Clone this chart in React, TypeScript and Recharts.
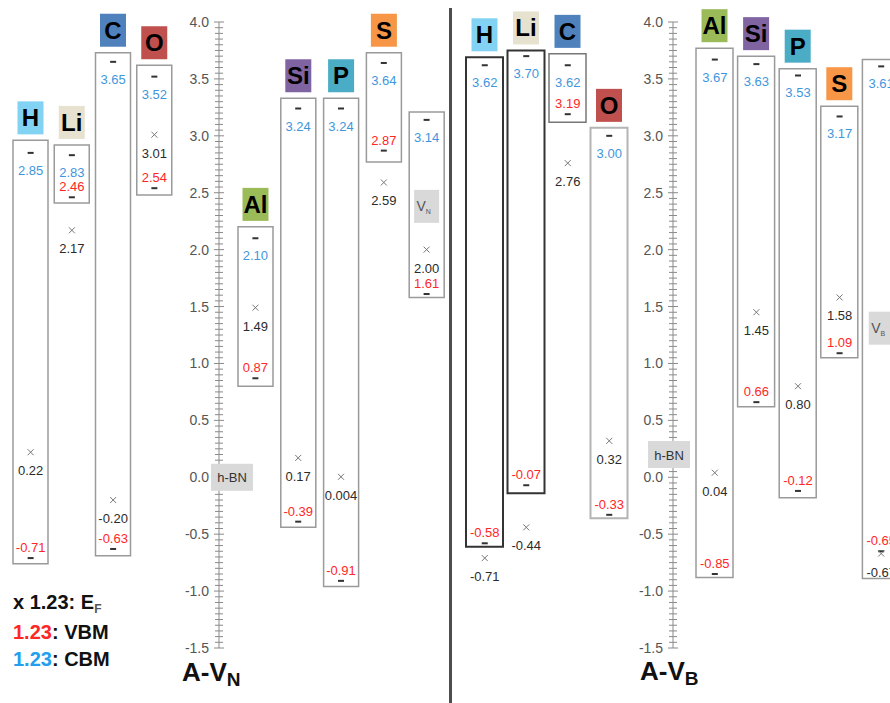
import React from "react"
import { ComposedChart, Bar, Line, XAxis, YAxis, Cell, LabelList, ReferenceDot } from "recharts"

const FONT = '"Liberation Sans", Arial, Helvetica, sans-serif'
const W = 890
const H = 703
const TOP = 22
const BOTTOM = 55

// A-V_N panel (left)
const VN_SITES = ["H", "Li", "C", "O", "Al", "Si", "P", "S", "VN"]
const VN_CBM = [2.85, 2.83, 3.65, 3.52, 2.10, 3.24, 3.24, 3.64, 3.14]
const VN_VBM = [-0.71, 2.46, -0.63, 2.54, 0.87, -0.39, -0.91, 2.87, 1.61]
const VN_EF = [0.22, 2.17, -0.20, 3.01, 1.49, 0.17, 0.004, 2.59, 2.00]
const VN_BOX_TOP = [2.96, 2.92, 3.73, 3.62, 2.20, 3.33, 3.33, 3.73, 3.21]
const VN_BOX_BOTTOM = [-0.76, 2.41, -0.69, 2.48, 0.80, -0.44, -0.96, 2.77, 1.58]

// A-V_B panel (right)
const VB_SITES = ["H", "Li", "C", "O", "Al", "Si", "P", "S", "VB"]
const VB_CBM = [3.62, 3.70, 3.62, 3.00, 3.67, 3.63, 3.53, 3.17, 3.61]
const VB_VBM = [-0.58, -0.07, 3.19, -0.33, -0.85, 0.66, -0.12, 1.09, -0.65]
const VB_EF = [-0.71, -0.44, 2.76, 0.32, 0.04, 1.45, 0.80, 1.58, -0.67]
const VB_BOX_TOP = [3.69, 3.75, 3.72, 3.07, 3.77, 3.70, 3.59, 3.26, 3.67]
const VB_BOX_BOTTOM = [-0.61, -0.14, 3.12, -0.36, -0.88, 0.62, -0.18, 1.05, -0.89]

// energy axis labels
const Y_LABELS = [-1.5, -1.0, -0.5, 0.0, 0.5, 1.0, 1.5, 2.0, 2.5, 3.0, 3.5, 4.0]

const TAG_COLORS: Record<string, string> = {
  H: "#82d3f3",
  Li: "#e6e2cf",
  C: "#4f81bd",
  O: "#c0504d",
  Al: "#9bbb59",
  Si: "#8064a2",
  P: "#4bacc6",
  S: "#f79646",
}

const BLUE = "#3f96dd"
const RED = "#ff2626"
const INK = "#2b2b2b"
const AXIS = "#8a8a8a"

const fmt = (v: number) => (v !== 0 && Math.abs(v) < 0.01 ? v.toFixed(3) : v.toFixed(2))
const isMajor = (v: number) => Math.abs(v * 2 - Math.round(v * 2)) < 1e-6

// every 0.05 between the labelled values
const minorTicks: number[] = []
for (let i = 0; i < Y_LABELS.length - 1; i++) {
  for (let k = 0; k < 10; k++) minorTicks.push(+(Y_LABELS[i] + (k * (Y_LABELS[i + 1] - Y_LABELS[i])) / 10).toFixed(2))
}
minorTicks.push(Y_LABELS[Y_LABELS.length - 1])

function buildRows(sites: string[], cbm: number[], vbm: number[], ef: number[], top: number[], bottom: number[]) {
  return sites.map((name, i) => ({ name, cbm: cbm[i], vbm: vbm[i], ef: ef[i], box: [bottom[i], top[i]] }))
}

const vnRows = buildRows(VN_SITES, VN_CBM, VN_VBM, VN_EF, VN_BOX_TOP, VN_BOX_BOTTOM)
const vbRows = buildRows(VB_SITES, VB_CBM, VB_VBM, VB_EF, VB_BOX_TOP, VB_BOX_BOTTOM)

function renderTag(p: any) {
  const name = String(p.value)
  const fill = TAG_COLORS[name]
  if (!fill) return null
  const vb = p.viewBox ?? p
  const x = vb.x ?? p.x
  const y = vb.y ?? p.y
  const width = vb.width ?? p.width
  const cx = x + width / 2
  const bottom = y - 6
  return (
    <g>
      <rect x={cx - 13} y={bottom - 33} width={26} height={33} fill={fill} />
      <text x={cx} y={bottom - 8} textAnchor="middle" fontSize={24} fontWeight="bold" fill="#000" fontFamily={FONT}>
        {name}
      </text>
    </g>
  )
}

function cbmDot(p: any) {
  if (p.cy == null) return <g key={p.index} />
  return (
    <g key={`c${p.index}`}>
      <rect x={p.cx - 3} y={p.cy - 1} width={6} height={2} fill="#333" />
      <text x={p.cx} y={p.cy + 22} textAnchor="middle" fontSize={13} fill={BLUE} fontFamily={FONT}>{fmt(p.value)}</text>
    </g>
  )
}

function vbmDot(p: any) {
  if (p.cy == null) return <g key={p.index} />
  return (
    <g key={`v${p.index}`}>
      <rect x={p.cx - 3} y={p.cy - 1} width={6} height={2} fill="#333" />
      <text x={p.cx} y={p.cy - 6} textAnchor="middle" fontSize={13} fill={RED} fontFamily={FONT}>{fmt(p.value)}</text>
    </g>
  )
}

function efDot(p: any) {
  if (p.cy == null) return <g key={p.index} />
  return (
    <g key={`e${p.index}`}>
      <path d={`M${p.cx - 3},${p.cy - 3}L${p.cx + 3},${p.cy + 3}M${p.cx + 3},${p.cy - 3}L${p.cx - 3},${p.cy + 3}`} stroke="#777" strokeWidth={1} />
      <text x={p.cx} y={p.cy + 23} textAnchor="middle" fontSize={13} fill={INK} fontFamily={FONT}>{fmt(p.value)}</text>
    </g>
  )
}

function vacancyShape(sub: string) {
  return (p: any) => (
    <g>
      <rect x={p.cx - 12.5} y={p.cy - 16.5} width={25} height={33} fill="#d9d9d9" />
      <text x={p.cx - 3} y={p.cy + 5} textAnchor="middle" fontSize={14} fill="#555" fontFamily={FONT}>
        V<tspan fontSize={7} dy={3}>{sub}</tspan>
      </text>
    </g>
  )
}

function AxisTick(props: any) {
  const { x, y, payload, hbnAt, hbnDx } = props
  const v = payload.value as number
  const major = isMajor(v)
  const len = major ? 5 : 4
  return (
    <g>
      <line x1={x - len} x2={x + len} y1={y} y2={y} stroke={AXIS} strokeWidth={1} />
      {major && (
        <text x={x - 10} y={y + 5} textAnchor="end" fontSize={14} fill="#555" fontFamily={FONT}>
          {v.toFixed(1)}
        </text>
      )}
      {Math.abs(v - hbnAt) < 1e-6 && (
        <g>
          <rect x={x + hbnDx} y={y - 13.5} width={42} height={27} fill="#d9d9d9" />
          <text x={x + hbnDx + 21} y={y + 5} textAnchor="middle" fontSize={13} fill="#333" fontFamily={FONT}>h-BN</text>
        </g>
      )}
    </g>
  )
}

interface GroupProps {
  rows: any[]
  left: number
  width: number
  margin: [number, number]
  padLeft: number
  barSize: number
  axis?: { hbnAt: number; hbnDx: number }
  strokes?: Record<string, [string, number]>
  vacancy?: { site: string; level: number; sub: string }
}

function Group({ rows, left, width, margin, padLeft, barSize, axis, strokes, vacancy }: GroupProps) {
  const ticks = axis ? [...minorTicks.filter((t) => Math.abs(t - axis.hbnAt) > 1e-6), axis.hbnAt] : Y_LABELS
  return (
    <div style={{ position: "absolute", left, top: 0 }}>
      <ComposedChart
        width={width}
        height={H}
        data={rows}
        margin={{ top: TOP, bottom: BOTTOM, left: margin[0], right: margin[1] }}
        barSize={barSize}
      >
        <XAxis dataKey="name" type="category" hide padding={{ left: padLeft, right: 0 }} />
        {axis ? (
          <YAxis
            type="number"
            domain={[-1.5, 4]}
            allowDataOverflow
            ticks={ticks}
            interval={0}
            width={45}
            tickSize={0}
            tickMargin={0}
            tickLine={false}
            axisLine={{ stroke: AXIS, strokeWidth: 1 }}
            tick={(p: any) => <AxisTick {...p} hbnAt={axis.hbnAt} hbnDx={axis.hbnDx} />}
          />
        ) : (
          <YAxis type="number" domain={[-1.5, 4]} allowDataOverflow hide width={0} />
        )}
        <Bar dataKey="box" fill="#fff" isAnimationActive={false}>
          {rows.map((r) => {
            const s = strokes?.[r.name] ?? ["#9a9a9a", 1.5]
            return <Cell key={r.name} stroke={s[0]} strokeWidth={s[1]} />
          })}
          <LabelList dataKey="name" content={renderTag} />
        </Bar>
        {vacancy && (
          <ReferenceDot x={vacancy.site} y={vacancy.level} ifOverflow="visible" shape={vacancyShape(vacancy.sub)} />
        )}
        <Line dataKey="cbm" stroke="none" dot={cbmDot} activeDot={false} isAnimationActive={false} />
        <Line dataKey="vbm" stroke="none" dot={vbmDot} activeDot={false} isAnimationActive={false} />
        <Line dataKey="ef" stroke="none" dot={efDot} activeDot={false} isAnimationActive={false} />
      </ComposedChart>
    </div>
  )
}

export default function App() {
  return (
    <div
      style={{
        position: "absolute",
        left: 0,
        top: 0,
        width: W,
        height: H,
        overflow: "hidden",
        background: "#fff",
        fontFamily: FONT,
      }}
    >
      {/* A-V_N */}
      <Group rows={vnRows.slice(0, 4)} left={0} width={219} margin={[10, 44]} padLeft={0} barSize={35} />
      <Group
        rows={vnRows.slice(4)}
        left={174}
        width={276}
        margin={[0, 2]}
        padLeft={15}
        barSize={35}
        axis={{ hbnAt: 0, hbnDx: -8 }}
        vacancy={{ site: "VN", level: 2.38, sub: "N" }}
      />

      {/* A-V_B */}
      <Group
        rows={vbRows.slice(0, 4)}
        left={450}
        width={223}
        margin={[14, 43]}
        padLeft={0}
        barSize={37}
        strokes={{ H: ["#333", 2], Li: ["#333", 2], C: ["#777", 1.5], O: ["#b4b4b4", 2] }}
      />
      <Group
        rows={vbRows.slice(4)}
        left={628}
        width={274}
        margin={[0, 0]}
        padLeft={21}
        barSize={37}
        axis={{ hbnAt: 0.2, hbnDx: -25 }}
        vacancy={{ site: "VB", level: 1.31, sub: "B" }}
      />

      <div style={{ position: "absolute", left: 449, top: 8, width: 3, height: H - 8, background: "#4d4d4d" }} />

      <div style={{ position: "absolute", left: 182, top: 659, fontSize: 26, fontWeight: "bold", lineHeight: "26px", color: "#111" }}>
        A-V<span style={{ fontSize: 19, position: "relative", top: 5 }}>N</span>
      </div>
      <div style={{ position: "absolute", left: 640, top: 658, fontSize: 26, fontWeight: "bold", lineHeight: "26px", color: "#111" }}>
        A-V<span style={{ fontSize: 19, position: "relative", top: 5 }}>B</span>
      </div>

      <div style={{ position: "absolute", left: 13, top: 589, fontSize: 20, fontWeight: "bold", lineHeight: "27px", color: "#111" }}>
        <div>
          x 1.23: E<span style={{ fontSize: 12, position: "relative", top: 4, color: "#555" }}>F</span>
        </div>
        <div>
          <span style={{ color: RED }}>1.23</span>: VBM
        </div>
        <div>
          <span style={{ color: "#22a0ee" }}>1.23</span>: CBM
        </div>
      </div>
    </div>
  )
}
